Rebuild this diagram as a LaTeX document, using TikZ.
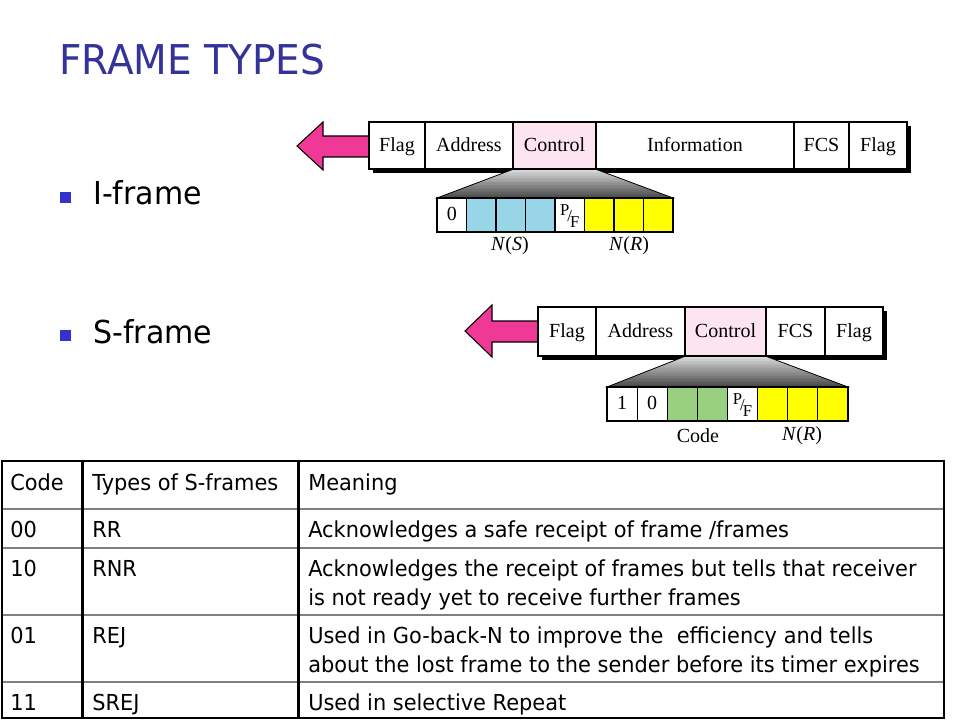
\documentclass[tikz,border=0pt]{standalone}
\usepackage{fontspec}
\setmainfont{Liberation Serif}
\newfontfamily\tah[FakeStretch=0.95]{DejaVu Sans}
\usetikzlibrary{fit}
\definecolor{titleblue}{RGB}{51,51,153}
\definecolor{bulletblue}{RGB}{51,51,204}
\definecolor{arrowpink}{RGB}{240,56,150}
\definecolor{ctrlpink}{RGB}{252,228,240}
\definecolor{fieldblue}{RGB}{153,213,232}
\definecolor{fieldgreen}{RGB}{153,208,128}
\definecolor{fieldyellow}{RGB}{255,255,0}
\definecolor{gridgray}{RGB}{128,128,128}
\newcommand\pfbit{{\fontsize{12.5}{12.5}\selectfont\raisebox{0.28em}{P}\kern-0.12em\raisebox{-0.05em}{/}\kern-0.12em\raisebox{-0.42em}{F}}}
\newcommand\fieldnode[7]{%
  \node[fld, fill=#6, fit={(#2,#3) (#4,#5)}] (#1) {};
  \node[fldtxt] (#1t) at (#1.center) {#7};}
\newcommand\wedgeshade[6]{% corners tl, tr, br, bl; then top y and bottom y
  \begin{scope}
    \clip #1 -- #2 -- #3 -- #4 -- cycle;
    \foreach \k in {0,...,19} {
      \pgfmathsetmacro\shadepct{14+3*\k}
      \fill[black!\shadepct] (300,{#5+\k*(#6-#5)/20}) rectangle (900,{#5+(\k+1)*(#6-#5)/20+0.6});
    }
  \end{scope}
  \draw[wedgeline] #1 -- #2 -- #3 -- #4 -- cycle;}
\begin{document}
\begin{tikzpicture}[x=0.75pt,y=-0.75pt,
  fld/.style={draw=black, line width=0.8pt, inner sep=0pt},
  fldtxt/.style={inner sep=0pt, text height=10pt, text depth=1.6pt, font=\fontsize{15}{17}\selectfont},
  bitlbl/.style={inner sep=0pt, font=\fontsize{15}{17}\selectfont},
  bigarrow/.style={fill=arrowpink, draw=black, line width=0.8pt, line join=miter},
  wedgeline/.style={draw=black, line width=0.6pt},
  shadowbar/.style={fill=black},
  bulletsq/.style={fill=bulletblue},
  bullettxt/.style={anchor=base west, inner sep=0pt, font=\tah\fontsize{23.7}{28}\selectfont},
  celltxt/.style={anchor=base west, inner sep=0pt, font=\tah\fontsize{16.5}{21.75}\selectfont},
  outerline/.style={draw=black, line width=1.5pt},
  colline/.style={draw=black, line width=2.25pt},
  rowline/.style={draw=gridgray, line width=1.2pt}]
\useasboundingbox (0,0) rectangle (960,720);
\fill[white] (0,0) rectangle (960,720);

% title
\node[anchor=base west, inner sep=0pt, text=titleblue, font=\tah\fontsize{30.8}{36}\selectfont] (title) at (59,75) {FRAME TYPES};

% bullets
\fill[bulletsq] (60,192) rectangle (71,203);
\node[bullettxt] (ibul) at (93,205) {I-frame};
\fill[bulletsq] (60,330) rectangle (71,341);
\node[bullettxt] (sbul) at (93,343) {S-frame};

% ---------- I-frame ----------
\fill[shadowbar] (373,126) rectangle (911,173);
\draw[bigarrow] (297,146) -- (323,122) -- (323,136) -- (369,136) -- (369,157) -- (323,157) -- (323,170) -- cycle;
\fieldnode{iflag1}{369}{122}{425}{169}{white}{Flag}
\fieldnode{iaddr}{425}{122}{513}{169}{white}{Address}
\fieldnode{ictrl}{513}{122}{596}{169}{ctrlpink}{Control}
\fieldnode{iinfo}{596}{122}{794}{169}{white}{Information}
\fieldnode{ifcs}{794}{122}{849}{169}{white}{FCS}
\fieldnode{iflag2}{849}{122}{907}{169}{white}{Flag}
\wedgeshade{(ictrl.south west)}{(ictrl.south east)}{(673,198)}{(437,198)}{169}{198}
\fieldnode{ib0}{437}{198}{466.5}{232}{white}{0}
\fieldnode{ib1}{466.5}{198}{496}{232}{fieldblue}{}
\fieldnode{ib2}{496}{198}{525.5}{232}{fieldblue}{}
\fieldnode{ib3}{525.5}{198}{555}{232}{fieldblue}{}
\fieldnode{ib4}{555}{198}{584.5}{232}{white}{\pfbit}
\fieldnode{ib5}{584.5}{198}{614}{232}{fieldyellow}{}
\fieldnode{ib6}{614}{198}{643.5}{232}{fieldyellow}{}
\fieldnode{ib7}{643.5}{198}{673}{232}{fieldyellow}{}
\node[bitlbl] (ins) at (510,246) {\textit{N}(\textit{S})};
\node[bitlbl] (inr) at (629,246) {\textit{N}(\textit{R})};

% ---------- S-frame ----------
\fill[shadowbar] (542,311) rectangle (887,360);
\draw[bigarrow] (465,331) -- (492,305) -- (492,321) -- (538,321) -- (538,342) -- (492,342) -- (492,357) -- cycle;
\fieldnode{sflag1}{538}{307}{596}{356}{white}{Flag}
\fieldnode{saddr}{596}{307}{685}{356}{white}{Address}
\fieldnode{sctrl}{685}{307}{766}{356}{ctrlpink}{Control}
\fieldnode{sfcs}{766}{307}{825}{356}{white}{FCS}
\fieldnode{sflag2}{825}{307}{883}{356}{white}{Flag}
\wedgeshade{(sctrl.south west)}{(sctrl.south east)}{(848,387)}{(607,387)}{356}{387}
\fieldnode{sb0}{607}{387}{637.1}{421}{white}{1}
\fieldnode{sb1}{637.1}{387}{667.25}{421}{white}{0}
\fieldnode{sb2}{667.25}{387}{697.4}{421}{fieldgreen}{}
\fieldnode{sb3}{697.4}{387}{727.5}{421}{fieldgreen}{}
\fieldnode{sb4}{727.5}{387}{757.6}{421}{white}{\pfbit}
\fieldnode{sb5}{757.6}{387}{787.75}{421}{fieldyellow}{}
\fieldnode{sb6}{787.75}{387}{817.9}{421}{fieldyellow}{}
\fieldnode{sb7}{817.9}{387}{848}{421}{fieldyellow}{}
\node[bitlbl] (scode) at (698,436) {Code};
\node[bitlbl] (snr) at (802,436) {\textit{N}(\textit{R})};

% ---------- table ----------
\draw[rowline] (2,509) -- (944,509);
\draw[rowline] (2,548) -- (944,548);
\draw[rowline] (2,615) -- (944,615);
\draw[rowline] (2,682) -- (944,682);
\draw[colline] (82,461) -- (82,718);
\draw[colline] (298,461) -- (298,718);
\draw[outerline] (2,461) rectangle (944,718);

\node[celltxt] (h1) at (10,490) {Code};
\node[celltxt] (h2) at (92,490) {Types of S-frames};
\node[celltxt] (h3) at (308,490) {Meaning};
\node[celltxt] (c1a) at (10,537) {00};
\node[celltxt] (c1b) at (92,537) {RR};
\node[celltxt] (c1c) at (308,537) {Acknowledges a safe receipt of frame /frames};
\node[celltxt] (c2a) at (10,576) {10};
\node[celltxt] (c2b) at (92,576) {RNR};
\node[celltxt] (c2c) at (308,576) {Acknowledges the receipt of frames but tells that receiver};
\node[celltxt] (c2d) at (308,605) {is not ready yet to receive further frames};
\node[celltxt] (c3a) at (10,643) {01};
\node[celltxt] (c3b) at (92,643) {REJ};
\node[celltxt] (c3c) at (308,643) {Used in Go-back-N to improve the\ \ efficiency and tells};
\node[celltxt] (c3d) at (308,672) {about the lost frame to the sender before its timer expires};
\node[celltxt] (c4a) at (10,710) {11};
\node[celltxt] (c4b) at (92,710) {SREJ};
\node[celltxt] (c4c) at (308,710) {Used in selective Repeat};
\end{tikzpicture}
\end{document}
